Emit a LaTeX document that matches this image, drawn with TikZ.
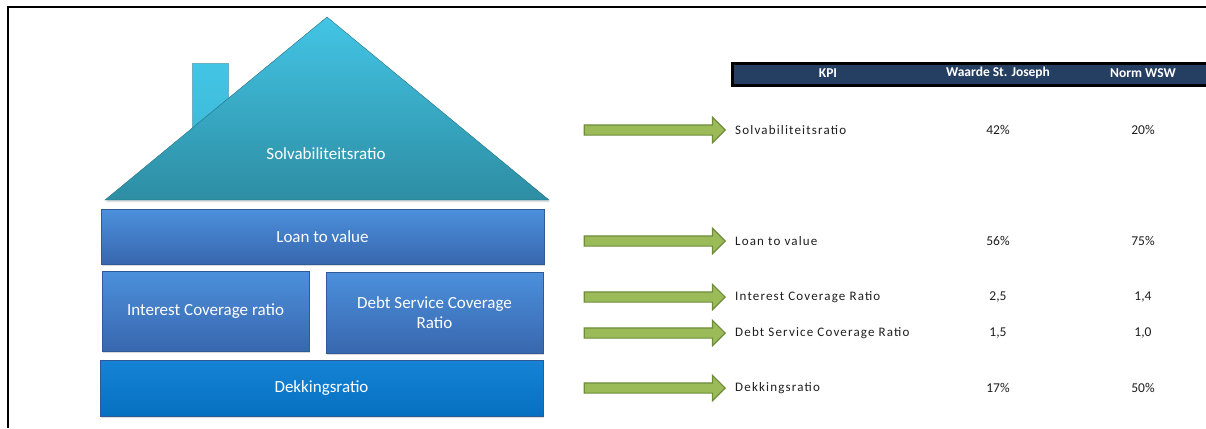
\documentclass[tikz,border=0pt]{standalone}
\usepackage{fontspec}
\setmainfont{Carlito}
\newfontfamily\ruimfont[LetterSpace=9]{Carlito}
\usepackage{xcolor}
\usepackage{tikz}
\usetikzlibrary{positioning, shapes.arrows, shadows}

\definecolor{dakboven}{HTML}{43C5E5}
\definecolor{dakonder}{HTML}{2D8DA3}
\definecolor{blokboven}{HTML}{4C90DC}
\definecolor{blokonder}{HTML}{3867AE}
\definecolor{blokrand}{HTML}{30599A}
\definecolor{donkerboven}{HTML}{1683D6}
\definecolor{donkeronder}{HTML}{0670C0}
\definecolor{pijlgroen}{HTML}{9BBB59}
\definecolor{pijlrand}{HTML}{6F8C3C}
\definecolor{kopblauw}{HTML}{243F62}
\definecolor{tekstgrijs}{HTML}{1E1E1E}

\begin{document}
\begin{tikzpicture}[
  x=1pt, y=-1pt,
  blok/.style    ={rectangle, draw=blokrand, thin,
                   top color=blokboven, bottom color=blokonder,
                   text=white, align=center, inner sep=0pt,
                   font=\fontsize{17}{20}\selectfont,
                   drop shadow={opacity=0.3, shadow xshift=1pt, shadow yshift=-2pt}},
  blokdonker/.style={blok, top color=donkerboven, bottom color=donkeronder},
  pijl/.style    ={single arrow, draw=pijlrand, fill=pijlgroen, line width=1.2pt,
                   minimum height=141pt, inner sep=4.5pt,
                   single arrow head extend=7.5pt},
  kpi/.style     ={anchor=west, inner sep=0pt, text=tekstgrijs,
                   font=\ruimfont\fontsize{13}{15}\selectfont},
  waarde/.style  ={inner sep=0pt, text=tekstgrijs, font=\fontsize{13.5}{15}\selectfont},
  kop/.style     ={inner sep=0pt, text=white, font=\bfseries\fontsize{13.5}{16}\selectfont}
]
\useasboundingbox (0,0) rectangle (1206,428);

% ---------- Frame ----------
\draw[line width=2pt] (8,428) -- (8,7) -- (1210,7);

% ---------- House ----------
\path[top color=dakboven, bottom color=dakboven!80!dakonder, draw=dakonder!70, thin]
  (192,63) rectangle (228,135);
\path[top color=dakboven, bottom color=dakonder, draw=dakonder!80!black, thin,
      drop shadow={opacity=0.25, shadow xshift=1pt, shadow yshift=-2pt}]
  (105,200) -- (327,17) -- (549,200) -- cycle;
\node[text=white, font=\fontsize{17}{20}\selectfont] (solv) at (326,154) {Solvabiliteitsratio};

\node[blok, minimum width=443pt, minimum height=55pt] (ltv)  at (322.5,236.5) {Loan to value};
\node[blok, minimum width=207pt, minimum height=80pt] (icr)  at (205.5,311)   {Interest Coverage ratio};
\node[blok, minimum width=217pt, minimum height=81pt] (dscr) at (434.5,312.5) {Debt Service Coverage\\Ratio};
\node[blokdonker, minimum width=443pt, minimum height=56pt] (dek) at (321.5,388) {Dekkingsratio};

% ---------- Table ----------
\node[draw=black, line width=2.5pt, fill=kopblauw, anchor=north west,
      minimum width=490pt, minimum height=22pt] (balk) at (731,62) {};
\node[kop] (hkpi)    at (828,73)  {KPI};
\node[kop] (hwaarde) at (998,73)  {Waarde St. Joseph};
\node[kop] (hnorm)   at (1143,73) {Norm WSW};

\node[kpi]    (k1) at (735,130)  {Solvabiliteitsratio};
\node[waarde] (w1) at (998,130)  {42\%};
\node[waarde] (n1) at (1143,130) {20\%};

\node[kpi]    (k2) at (735,241)  {Loan to value};
\node[waarde] (w2) at (998,241)  {56\%};
\node[waarde] (n2) at (1143,241) {75\%};

\node[kpi]    (k3) at (735,297)  {Interest Coverage Ratio};
\node[waarde] (w3) at (998,297)  {2,5};
\node[waarde] (n3) at (1143,297) {1,4};

\node[kpi]    (k4) at (735,333)  {Debt Service Coverage Ratio};
\node[waarde] (w4) at (998,333)  {1,5};
\node[waarde] (n4) at (1143,333) {1,0};

\node[kpi]    (k5) at (735,388)  {Dekkingsratio};
\node[waarde] (w5) at (998,388)  {17\%};
\node[waarde] (n5) at (1143,388) {50\%};

% ---------- Arrows ----------
\node[pijl, left=9pt of k1] (p1) {};
\node[pijl, left=9pt of k2] (p2) {};
\node[pijl, left=9pt of k3] (p3) {};
\node[pijl, left=9pt of k4] (p4) {};
\node[pijl, left=9pt of k5] (p5) {};

\end{tikzpicture}
\end{document}
